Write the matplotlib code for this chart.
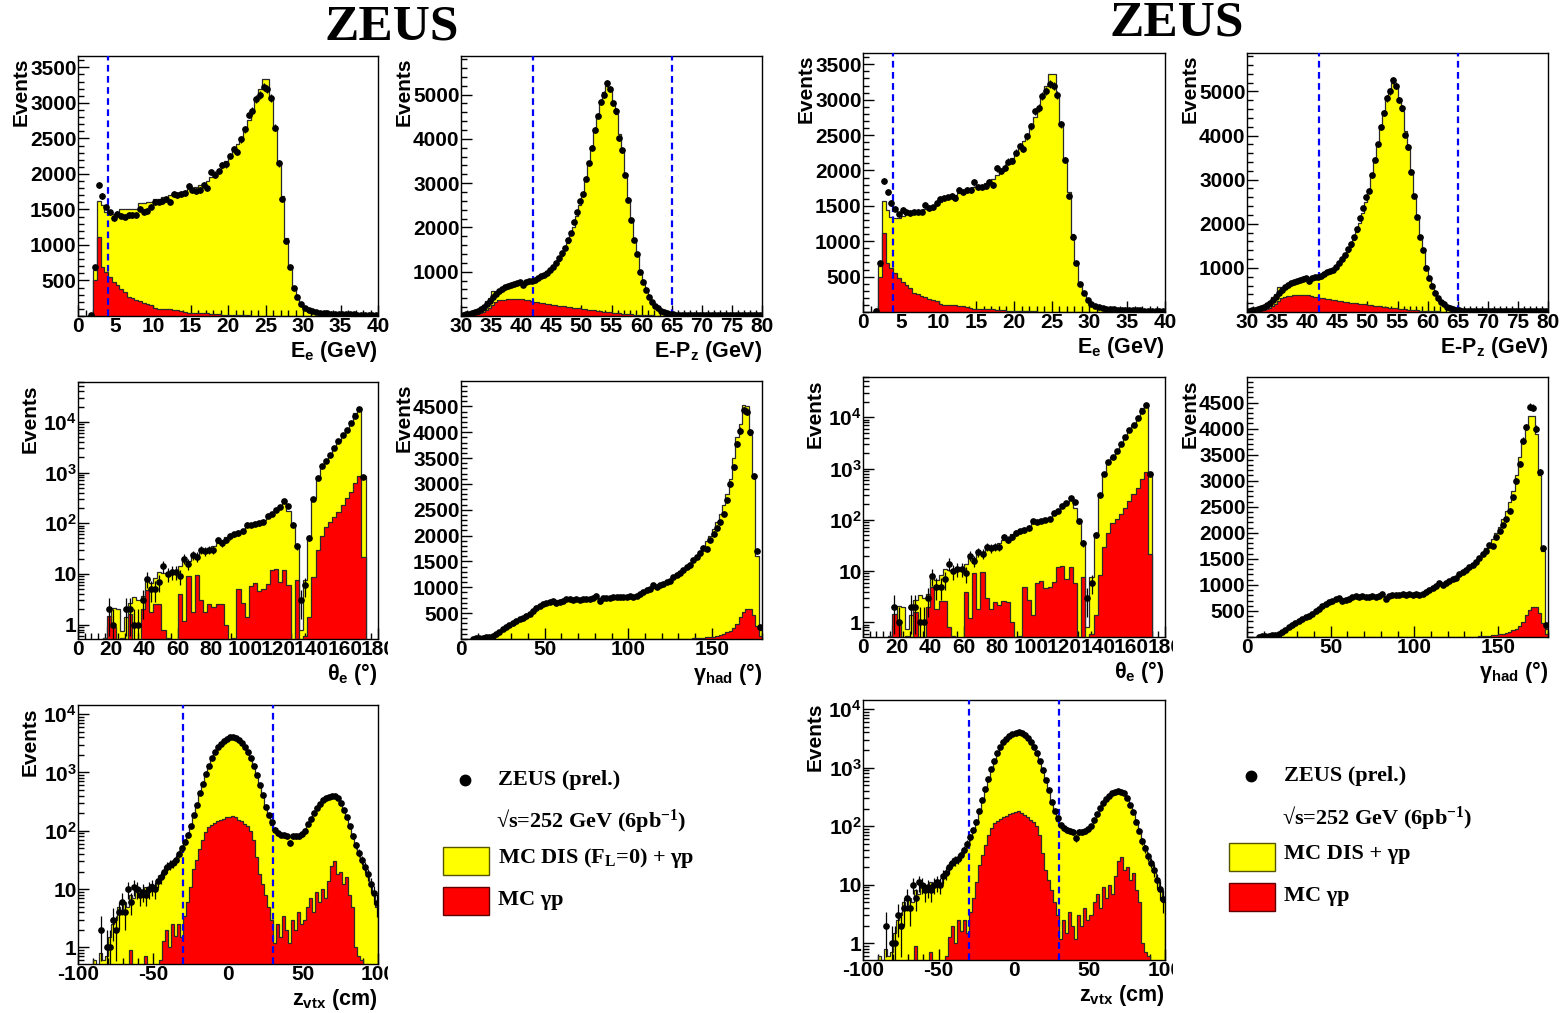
import numpy as np
import matplotlib
matplotlib.use('Agg')
import matplotlib.pyplot as plt
from matplotlib.ticker import (MultipleLocator, FixedLocator, FixedFormatter,
                               LogLocator, NullFormatter)
from matplotlib.patches import Rectangle
from matplotlib.lines import Line2D
from matplotlib.transforms import Bbox, TransformedBbox, offset_copy

# ---------------- data ----------------
# E_e, 0.5 GeV bins from 0 to 40
ee_mc_fl0 = [0, 0, 0, 0, 650, 1620, 1560, 1460, 1450, 1440,
             1470, 1510, 1510, 1500, 1500, 1510, 1590, 1590, 1610, 1610,
             1640, 1650, 1670, 1680, 1700, 1730, 1730, 1740, 1760, 1790,
             1800, 1820, 1840, 1870, 1900, 1960, 2000, 2060, 2120, 2180,
             2250, 2330, 2420, 2520, 2640, 2760, 2900, 3060, 3200, 3330,
             3330, 3080, 2650, 2150, 1690, 1100, 700, 400, 265, 170,
             100, 75, 60, 50, 45, 40, 37, 34, 32, 30,
             28, 26, 25, 24, 22, 21, 20, 19, 18, 17]
ee_mc_std = [0, 0, 0, 0, 650, 1570, 1440, 1340, 1330, 1330,
             1350, 1380, 1400, 1410, 1410, 1420, 1460, 1480, 1500, 1510,
             1560, 1590, 1610, 1620, 1650, 1680, 1700, 1720, 1740, 1770,
             1780, 1800, 1820, 1850, 1880, 1940, 1980, 2040, 2100, 2170,
             2240, 2320, 2410, 2510, 2630, 2750, 2890, 3050, 3200, 3360,
             3360, 3090, 2650, 2150, 1690, 1100, 690, 400, 260, 170,
             100, 75, 60, 50, 45, 40, 37, 34, 32, 30,
             28, 26, 25, 24, 22, 21, 20, 19, 18, 17]
ee_gp = [0, 0, 0, 0, 500, 1110, 690, 620, 550, 480,
         430, 375, 335, 270, 250, 230, 215, 180, 165, 160,
         110, 105, 100, 100, 95, 80, 78, 75, 50, 48,
         46, 45, 43, 40, 38, 35, 25, 22, 20, 18,
         16, 14, 12, 10, 9, 8, 7, 6, 5, 5,
         4, 3, 3, 2, 2, 1, 1, 0, 0, 0,
         0, 0, 0, 0, 0, 0, 0, 0, 0, 0,
         0, 0, 0, 0, 0, 0, 0, 0, 0, 0]
ee_data = [0, 0, 0, 10, 690, 1850, 1690, 1540, 1460, 1380,
           1440, 1410, 1400, 1420, 1420, 1420, 1510, 1470, 1480, 1540,
           1600, 1610, 1620, 1640, 1610, 1720, 1700, 1720, 1730, 1830,
           1770, 1760, 1780, 1840, 1800, 2030, 1990, 2040, 2126, 2135,
           2252, 2345, 2308, 2486, 2626, 2836, 2883, 3056, 3117, 3224,
           3196, 3070, 2650, 2150, 1645, 1060, 690, 390, 266, 173,
           110, 80, 65, 55, 48, 42, 38, 35, 32, 30,
           28, 26, 24, 22, 21, 20, 19, 18, 17, 16]

# E-Pz, 0.5 GeV bins from 30 to 80
epz_mc = [20, 30, 45, 60, 85, 115, 130, 200, 330, 400,
          560, 570, 590, 620, 650, 670, 690, 710, 730, 750,
          760, 770, 790, 800, 820, 850, 880, 910, 950, 1000,
          1080, 1160, 1250, 1360, 1480, 1640, 1820, 2020, 2250, 2500,
          2750, 3100, 3500, 3800, 4200, 4550, 4850, 5050, 5200, 5150,
          4850, 4550, 4100, 3700, 3200, 2650, 2150, 1720, 1380, 1000,
          780, 590, 430, 310, 220, 160, 115, 82, 60, 45,
          35, 30, 27, 25, 24, 23, 22, 22, 21, 21,
          20, 20, 20, 19, 19, 19, 18, 18, 18, 18,
          17, 17, 17, 16, 16, 16, 15, 15, 15, 15]
epz_gp = [10, 15, 20, 30, 40, 55, 70, 100, 130, 180,
          250, 320, 350, 365, 370, 375, 375, 378, 380, 385,
          390, 370, 350, 335, 320, 310, 300, 290, 280, 265,
          255, 245, 235, 225, 215, 205, 195, 185, 178, 172,
          165, 155, 145, 135, 128, 118, 110, 100, 90, 82,
          75, 68, 60, 52, 45, 40, 35, 30, 25, 22,
          20, 17, 14, 12, 10, 8, 7, 5, 4, 3,
          3, 2, 2, 1, 1, 1, 0, 0, 0, 0,
          0, 0, 0, 0, 0, 0, 0, 0, 0, 0,
          0, 0, 0, 0, 0, 0, 0, 0, 0, 0]
epz_data = [25, 35, 45, 60, 80, 110, 150, 200, 270, 340,
            420, 500, 560, 620, 650, 680, 700, 720, 740, 760,
            710, 770, 790, 800, 810, 860, 900, 930, 960, 1030,
            1110, 1200, 1300, 1420, 1540, 1710, 1880, 2130, 2350, 2600,
            2750, 3100, 3450, 3800, 4200, 4520, 4840, 5000, 5250, 5130,
            4810, 4620, 4020, 3740, 3180, 2630, 2160, 1710, 1410, 990,
            770, 590, 440, 320, 230, 170, 120, 85, 60, 45,
            35, 30, 27, 25, 24, 22, 23, 21, 22, 20,
            20, 21, 19, 18, 20, 18, 17, 19, 18, 16,
            17, 16, 18, 15, 16, 17, 14, 16, 15, 14]

# theta_e, 2.5 degree bins from 0 to 180
th_mc = [0, 0, 0, 0, 0, 0, 0.55, 0.9, 2.1, 2.0,
         0.75, 1.4, 2.7, 3.5, 3.0, 3.6, 8.0, 6.6, 8.3, 10.8,
         10.4, 10.4, 11.3, 11.5, 14, 17.8, 17.8, 22, 24, 27,
         30, 32, 36, 41, 47, 54, 60, 64, 69, 75,
         87, 98, 104, 109, 114, 137, 165, 200, 223, 250,
         173, 94, 35, 0.8, 7.7, 55, 315, 780, 1320, 1680,
         2150, 3050, 4170, 5640, 7050, 9200, 15000, 17500, 840, 0,
         0, 0]
th_gp = [0, 0, 0, 0, 0, 0, 0.55, 1.45, 0.9, 0,
         0.55, 0, 1.6, 0, 0, 2.0, 4.9, 1.8, 2.6, 2.6,
         0.8, 0.55, 0, 0, 4.0, 1.2, 9.0, 1.8, 9.5, 3.0,
         1.8, 2.5, 2.2, 2.6, 2.5, 1.0, 0, 0.55, 5.0, 2.7,
         1.4, 5.8, 6.5, 4.7, 5.0, 6.2, 12, 12.5, 7.0, 12,
         6.0, 0, 7.7, 0, 0.6, 1.4, 8.5, 30, 55, 85,
         105, 130, 170, 230, 320, 420, 625, 840, 22, 0,
         0, 0]
th_data = [0, 0, 0, 0, 0, 0, 0, 2, 1, 0,
           0, 2, 2, 1, 1, 3, 8, 5, 5, 7,
           14, 10, 11, 11, 9, 20, 16, 24, 22, 30,
           28, 30, 30, 47, 41, 47, 55, 60, 64, 70,
           94, 92, 96, 100, 105, 137, 150, 185, 210, 270,
           220, 94, 35, 3, 6, 51, 300, 780, 1330, 1700,
           2200, 3000, 4200, 5600, 7000, 9500, 13000, 17500, 800, 0,
           0, 0]

# gamma_had, 2 degree bins from 0 to 180
gam_mc_fl0 = [0, 0, 0, 5, 10, 15, 22, 30, 42, 60,
              90, 130, 175, 220, 260, 300, 340, 390, 440, 480,
              520, 560, 600, 640, 670, 700, 720, 735, 745, 755,
              760, 765, 770, 770, 775, 775, 780, 780, 785, 785,
              790, 790, 795, 800, 805, 810, 815, 820, 825, 830,
              840, 850, 865, 885, 905, 930, 960, 990, 1020, 1050,
              1085, 1120, 1160, 1200, 1250, 1300, 1350, 1410, 1470, 1540,
              1620, 1700, 1790, 1890, 2000, 2120, 2260, 2420, 2600, 2800,
              3100, 3500, 3900, 4150, 4520, 4510, 3950, 3120, 1600, 180]
gam_mc_std = [0, 0, 0, 5, 10, 15, 22, 30, 42, 60,
              90, 130, 175, 220, 260, 300, 340, 390, 440, 480,
              520, 560, 600, 640, 670, 700, 720, 735, 745, 755,
              760, 765, 770, 770, 775, 775, 780, 780, 785, 785,
              790, 790, 795, 800, 805, 810, 815, 820, 825, 830,
              840, 850, 865, 885, 905, 930, 960, 990, 1020, 1050,
              1085, 1120, 1160, 1200, 1250, 1300, 1350, 1410, 1470, 1540,
              1620, 1700, 1790, 1890, 2000, 2120, 2260, 2420, 2600, 2800,
              3100, 3450, 3800, 4000, 4250, 4250, 3900, 3100, 1650, 150]
gam_gp = [0, 0, 0, 0, 0, 0, 0, 0, 0, 0,
          0, 0, 0, 0, 0, 0, 0, 0, 0, 0,
          0, 0, 0, 0, 0, 0, 0, 0, 0, 0,
          0, 0, 0, 0, 0, 0, 0, 0, 0, 0,
          0, 0, 0, 0, 0, 0, 0, 0, 0, 0,
          0, 0, 0, 0, 0, 0, 0, 0, 0, 0,
          1, 1, 2, 2, 3, 4, 5, 7, 9, 12,
          15, 19, 24, 30, 38, 48, 60, 78, 100, 130,
          160, 220, 290, 420, 520, 580, 580, 470, 260, 60]
gam_data = [0, 0, 0, 8, 12, 18, 25, 35, 45, 65,
            100, 140, 190, 230, 270, 300, 340, 380, 410, 450,
            490, 540, 600, 640, 670, 700, 720, 740, 700, 710,
            730, 770, 780, 760, 780, 760, 770, 780, 770, 790,
            830, 730, 790, 800, 800, 810, 820, 810, 820, 810,
            830, 810, 830, 870, 910, 940, 970, 1040, 1000, 1040,
            1070, 1110, 1130, 1200, 1240, 1280, 1340, 1390, 1440, 1520,
            1590, 1660, 1760, 1750, 1910, 2040, 2140, 2260, 2420, 2680,
            3000, 3320, 3770, 4030, 4420, 4400, 4000, 3160, 1710, 226]

# z_vtx, 2 cm bins from -100 to 100
z_mc = [0, 0, 0, 0, 0, 0.6, 0, 0.8, 0.6, 0.7,
        1.5, 2.5, 3, 5, 4, 6, 5, 8, 7, 9,
        10, 8, 11, 9, 12, 10, 14, 15, 19, 22,
        24, 26, 30, 38, 50, 63, 85, 120, 180, 280,
        430, 640, 920, 1280, 1700, 2180, 2650, 3080, 3470, 3760,
        3960, 4000, 3900, 3620, 3180, 2700, 2180, 1700, 1280, 900,
        610, 395, 250, 170, 125, 102, 92, 87, 84, 82,
        80, 80, 81, 84, 90, 102, 125, 160, 205, 255,
        295, 335, 365, 385, 392, 385, 355, 295, 228, 172,
        120, 82, 56, 41, 31, 23, 17, 12, 8, 5]
z_gp = [0, 0, 0, 0, 0, 0, 0, 0, 0, 0,
        0, 0, 0, 0, 0, 0, 0, 0.9, 0, 0,
        0, 0, 0.7, 0, 0, 0, 0, 0.6, 1.3, 2.0,
        1.0, 2.5, 1.6, 2.5, 1.5, 3.5, 6, 11, 22, 32,
        48, 70, 95, 115, 125, 135, 145, 150, 160, 170,
        175, 180, 170, 155, 145, 130, 120, 100, 70, 35,
        18, 12, 8, 5, 3, 1.2, 2.5, 1.5, 3.5, 2,
        1.2, 3, 2, 4, 2.5, 3, 5, 7, 4, 9,
        6, 10, 7, 14, 25, 30, 18, 20, 12, 16,
        8, 5, 1, 0.7, 0.6, 0, 0, 0, 0, 0]
z_data = [0, 0, 0, 0, 0, 0, 0, 2, 0, 1,
          1, 3, 2, 4, 6, 4, 10, 6, 11, 10,
          8, 9, 8, 10, 11, 10, 14, 16, 20, 24,
          26, 28, 32, 40, 50, 65, 85, 120, 185, 280,
          440, 640, 950, 1300, 1750, 2250, 2700, 3100, 3450, 3750,
          3980, 4050, 3900, 3600, 3200, 2750, 2250, 1750, 1300, 920,
          620, 410, 260, 185, 140, 105, 92, 86, 84, 80,
          62, 80, 80, 82, 88, 100, 130, 160, 205, 250,
          290, 330, 365, 385, 392, 390, 365, 300, 230, 174,
          120, 82, 56, 42, 31, 24, 18, 12, 8.5, 5.7]

# cut values (dashed lines)
ee_cut = [4]
epz_cut = [42, 65]
z_cut = [-30, 30]

# ---------------- figure ----------------
plt.rcParams['font.family'] = 'Liberation Sans'
plt.rcParams['font.weight'] = 'bold'
plt.rcParams['mathtext.default'] = 'regular'
plt.rcParams['axes.linewidth'] = 1.0
plt.rcParams['axes.unicode_minus'] = False

W, H = 1564, 1013
fig = plt.figure(figsize=(W / 100, H / 100), dpi=100)

YELLOW = '#ffff00'
RED = '#ff0000'
EDGE = '#2a2a2a'
BLUE = '#0000ff'


def px_axes(rect):
    l, t, r, b = rect
    return fig.add_axes([l / W, 1 - b / H, (r - l) / W, (b - t) / H])


def hist_panel(ax, edges, mc, gp, data, log=False):
    mc = np.asarray(mc, float)
    gp = np.asarray(gp, float)
    data = np.asarray(data, float)
    floor = 1e-3 if log else 0.0
    if log:
        mc = np.where(mc > 0, mc, floor)
        gp = np.where(gp > 0, gp, floor)
    ax.stairs(mc, edges, baseline=floor, fill=True, color=YELLOW, lw=0, zorder=1)
    ax.stairs(mc, edges, baseline=floor, color=EDGE, lw=0.9, zorder=2)
    ax.stairs(gp, edges, baseline=floor, fill=True, color=RED, lw=0, zorder=2.5)
    ax.stairs(gp, edges, baseline=floor, color=EDGE, lw=0.9, zorder=3)
    centers = 0.5 * (edges[1:] + edges[:-1])
    m = data > 0
    err = np.sqrt(data[m])
    lo = np.minimum(err, data[m] - 1e-3) if log else err
    ax.errorbar(centers[m], data[m], yerr=[lo, err], fmt='o', ms=3.8,
                color='k', elinewidth=0.9, capsize=0, zorder=6)


def style(ax, xlim, ylim, xmaj, xmin, yticks=None, ymin=None, log=False):
    if log:
        ax.set_yscale('log')
        ax.yaxis.set_major_locator(FixedLocator([1, 10, 100, 1000, 10000]))
        ax.yaxis.set_major_formatter(FixedFormatter(
            ['1', '10', '$10^{2}$', '$10^{3}$', '$10^{4}$']))
        ax.yaxis.set_minor_locator(LogLocator(base=10, subs=np.arange(2, 10)))
        ax.yaxis.set_minor_formatter(NullFormatter())
    else:
        ax.yaxis.set_major_locator(FixedLocator(yticks))
        ax.yaxis.set_minor_locator(MultipleLocator(ymin))
    ax.set_xlim(xlim)
    ax.set_ylim(ylim)
    ax.xaxis.set_major_locator(MultipleLocator(xmaj))
    ax.xaxis.set_minor_locator(MultipleLocator(xmin))
    ax.tick_params(which='both', direction='in', top=False, right=False,
                   labelsize=15, width=1)
    ax.tick_params(which='major', length=8)
    ax.tick_params(which='minor', length=4)
    ax.tick_params(axis='y', pad=1)
    ax.tick_params(axis='x', pad=0.5)


def labels(ax, xlabel, log=False):
    ax.text(1, 0, xlabel, transform=offset_copy(ax.transAxes, fig=fig, x=0, y=-41, units='dots'),
            ha='right', va='baseline', fontsize=15.5)
    dx = -48 if log else -57
    ax.text(0, 1, 'Events', transform=offset_copy(ax.transAxes, fig=fig, x=dx, y=-2, units='dots'),
            rotation=90, ha='center', va='top', fontsize=15)


def clip_xlabels(ax, xclip):
    box = TransformedBbox(Bbox([[0, 0], [xclip / W, 1]]), fig.transFigure)
    for lab in ax.get_xticklabels():
        lab.set_clip_box(box)
        lab.set_clip_on(True)


def cuts(ax, vals):
    for v in vals:
        ax.axvline(v, color=BLUE, ls=(0, (3, 2)), lw=1.6, zorder=4)


def draw_half(rects, ee_mc, gam_mc, mc_label, title_xy, leg, xclip):
    e_ee = np.linspace(0, 40, 81)
    e_epz = np.linspace(30, 80, 101)
    e_th = np.linspace(0, 180, 73)
    e_gam = np.linspace(0, 180, 91)
    e_z = np.linspace(-100, 100, 101)

    ax = px_axes(rects[0])
    hist_panel(ax, e_ee, ee_mc, ee_gp, ee_data)
    cuts(ax, ee_cut)
    style(ax, (0, 40), (0, 3660), 5, 1, yticks=np.arange(500, 3501, 500), ymin=100)
    labels(ax, 'E$_{e}$ (GeV)')

    ax = px_axes(rects[1])
    hist_panel(ax, e_epz, epz_mc, epz_gp, epz_data)
    cuts(ax, epz_cut)
    style(ax, (30, 80), (0, 5870), 5, 1, yticks=np.arange(1000, 5001, 1000), ymin=200)
    labels(ax, 'E-P$_{z}$ (GeV)')

    ax = px_axes(rects[2])
    hist_panel(ax, e_th, th_mc, th_gp, th_data, log=True)
    style(ax, (0, 180), (0.52, 61000), 20, 4, log=True)
    labels(ax, 'θ$_{e}$ (°)', log=True)
    clip_xlabels(ax, xclip)

    ax = px_axes(rects[3])
    hist_panel(ax, e_gam, gam_mc, gam_gp, gam_data)
    style(ax, (0, 180), (0, 4990), 50, 10, yticks=np.arange(500, 4501, 500), ymin=100)
    labels(ax, 'γ$_{had}$ (°)')

    ax = px_axes(rects[4])
    hist_panel(ax, e_z, z_mc, z_gp, z_data, log=True)
    cuts(ax, z_cut)
    style(ax, (-100, 100), (0.52, 14300), 50, 10, log=True)
    labels(ax, 'z$_{vtx}$ (cm)', log=True)
    clip_xlabels(ax, xclip)

    fig.text(title_xy[0] / W, 1 - title_xy[1] / H, 'ZEUS', ha='center', va='center',
             family='Liberation Serif', weight='bold', fontsize=37)

    lx, ly = leg
    serif = dict(family='Liberation Serif', weight='bold', fontsize=16, va='center', ha='left')
    fig.add_artist(Line2D([(lx + 22) / W], [1 - ly / H], marker='o', ms=7.5, color='k',
                          transform=fig.transFigure))
    fig.text((lx + 55) / W, 1 - ly / H, 'ZEUS (prel.)', **serif)
    fig.text((lx + 53) / W, 1 - (ly + 41) / H, '√s=252 GeV (6pb$^{-1}$)', **serif)
    fig.add_artist(Rectangle((lx / W, 1 - (ly + 95) / H), 46 / W, 28 / H, transform=fig.transFigure,
                             facecolor=YELLOW, edgecolor='#555500', lw=1))
    fig.text((lx + 55) / W, 1 - (ly + 78) / H, mc_label, **serif)
    fig.add_artist(Rectangle((lx / W, 1 - (ly + 135) / H), 46 / W, 28 / H, transform=fig.transFigure,
                             facecolor=RED, edgecolor='#600000', lw=1))
    fig.text((lx + 55) / W, 1 - (ly + 120) / H, 'MC γp', **serif)


rects_left = [(78, 56, 378, 316), (461, 56, 762, 316), (78, 382, 378, 639),
              (461, 381, 762, 639), (78, 705, 378, 964)]
rects_right = [(863, 53, 1165, 312), (1247, 53, 1548, 312), (863, 377, 1165, 637),
               (1247, 377, 1548, 637), (863, 700, 1165, 960)]

draw_half(rects_left, ee_mc_fl0, gam_mc_fl0, 'MC DIS (F$_{L}$=0) + γp', (392, 28), (443, 780), 388)
draw_half(rects_right, ee_mc_std, gam_mc_std, 'MC DIS + γp', (1177, 24), (1229, 776), 1173)

fig.savefig('out.png', dpi=100)
